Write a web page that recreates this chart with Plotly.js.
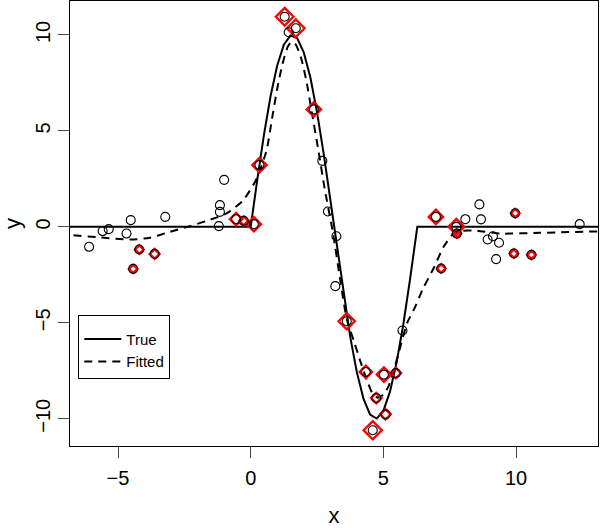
<!DOCTYPE html>
<html>
<head>
<meta charset="utf-8">
<script src="https://cdn.plot.ly/plotly-3.0.1.min.js"></script>
<style>html,body{margin:0;padding:0;background:#fff;}#plot{width:600px;height:528px;}</style>
</head>
<body>
<div id="plot"></div>
<script>
// All observed data points (open circles)
var obsX = [-6.09,-5.58,-5.35,-4.52,-4.68,-4.20,-4.43,-3.62,-3.22,-1.00,-1.16,-1.16,-1.20,-0.55,-0.26,0.12,0.33,
            1.28,1.70,1.43,2.38,2.70,2.91,3.23,3.19,3.62,4.34,5.02,5.47,4.73,5.08,4.60,5.72,
            6.98,7.75,7.77,7.18,8.09,8.62,8.68,9.97,9.13,8.93,9.36,9.25,9.92,10.58,12.40];
var obsY = [-1.04,-0.22,-0.12,0.35,-0.35,-1.18,-2.19,-1.41,0.52,2.45,1.13,0.78,0.04,0.40,0.31,0.14,3.22,
            10.95,10.35,10.14,6.12,3.44,0.80,-0.49,-3.09,-4.92,-7.56,-7.70,-7.62,-8.92,-9.77,-10.60,-5.40,
            0.52,0.00,-0.35,-2.17,0.40,1.17,0.39,0.71,-0.49,-0.66,-0.83,-1.68,-1.39,-1.46,0.14];
// Highlighted points (red diamonds) and their diamond sizes
var selX = [-4.20,-4.43,-3.62,-0.55,-0.26,0.12,0.33,1.28,1.70,2.38,3.62,4.34,5.02,5.47,4.73,5.08,4.60,6.98,7.75,7.77,7.18,9.97,9.92,10.58];
var selY = [-1.18,-2.19,-1.41,0.40,0.31,0.14,3.22,10.95,10.35,6.12,-4.92,-7.56,-7.70,-7.62,-8.92,-9.77,-10.60,0.52,0.00,-0.35,-2.17,0.71,-1.39,-1.46];
var selW = [6.5,6.5,7.5,9.5,7,11,11,13.5,13.5,11,12.5,9.5,11,8,8,8,14,11,12,6.5,6.5,6.5,6.5,6.5];
// True curve
var trueX = [-8,0,0.25,0.5,0.75,1,1.25,1.5,1.75,2,2.25,2.5,2.75,3,3.25,3.5,3.75,4,4.25,4.5,4.75,5,5.25,5.5,5.75,6,6.28,14];
var trueY = [0,0,2.47,4.79,6.82,8.41,9.49,9.97,9.84,9.09,7.78,5.98,3.82,1.41,-1.08,-3.51,-5.72,-7.57,-8.95,-9.78,-9.99,-9.59,-8.59,-7.06,-5.10,-2.79,0,0];
// Fitted curve
var fitX = [-7.2,-6.81,-5.69,-4.55,-3.8,-3.05,-2.29,-1.66,-0.91,-0.28,0.23,0.6,0.8,1.0,1.2,1.4,1.55,1.7,1.9,2.1,2.3,2.55,2.8,3.1,3.4,3.62,3.9,4.12,4.38,4.6,4.8,5.0,5.2,5.45,5.65,5.9,6.2,6.5,6.89,7.27,7.65,8.0,8.5,9.4,10.9,13.5];
var fitY = [-0.40,-0.43,-0.55,-0.66,-0.57,-0.26,0.04,0.31,0.70,1.39,2.52,4.0,5.6,7.2,8.5,9.4,9.65,9.5,8.8,7.6,6.0,4.0,1.9,-0.3,-3.0,-4.8,-6.0,-6.95,-8.0,-8.7,-8.9,-8.75,-8.3,-7.2,-6.2,-5.0,-4.17,-3.2,-2.17,-1.04,-0.35,-0.2,-0.2,-0.35,-0.31,-0.22];
var xTicks = [-5,0,5,10];
var yTicks = [-10,-5,0,5,10];

var font = "Liberation Sans, Arial, sans-serif";
var traces = [
  {x: trueX, y: trueY, mode: 'lines', name: 'True', line: {color: 'black', width: 2}, hoverinfo: 'skip'},
  {x: fitX, y: fitY, mode: 'lines', name: 'Fitted', line: {color: 'black', width: 2, dash: '8px,6px', shape: 'spline', smoothing: 0.6}, hoverinfo: 'skip'},
  {x: selX, y: selY, mode: 'markers', showlegend: false, opacity: 1, marker: {symbol: 'diamond-open', size: selW, opacity: 1, color: '#ff0000', line: {width: 2.4, color: '#ff0000'}}},
  {x: obsX, y: obsY, mode: 'markers', showlegend: false, opacity: 1, marker: {symbol: 'circle-open', size: 9, opacity: 1, color: 'black', line: {width: 1.1, color: 'black'}}}
];
var layout = {
  width: 600, height: 528,
  margin: {l: 70, r: 2, t: 1, b: 82},
  paper_bgcolor: 'white', plot_bgcolor: 'white',
  font: {family: font, color: 'black'},
  showlegend: true,
  legend: {x: 0.0157, y: 0.294, xanchor: 'left', yanchor: 'top', bgcolor: 'white', bordercolor: 'black', borderwidth: 1,
           font: {size: 15, family: font}, tracegroupgap: 0, itemwidth: 37,
           title: {text: ' ', font: {size: 5}}},
  xaxis: {range: [-6.81, 13.09], tickvals: xTicks, ticktext: xTicks.map(function(v){return v<0?'\u2212'+(-v):String(v);}),
          ticks: 'outside', ticklen: 11, tickcolor: '#444', tickwidth: 1, ticklabelstandoff: 3,
          showline: true, linecolor: 'black', linewidth: 1, mirror: true, showgrid: false, zeroline: false,
          tickfont: {size: 20, family: font}, title: {text: 'x', font: {size: 22, family: font}, standoff: 20}},
  yaxis: {range: [-11.42, 11.77], tickvals: yTicks, ticktext: yTicks.map(function(v){return v<0?'\u2212'+(-v):String(v);}),
          tickangle: -90, ticks: 'outside', ticklen: 11, tickcolor: '#444', tickwidth: 1,
          showline: true, linecolor: 'black', linewidth: 1, mirror: true, showgrid: false, zeroline: false,
          tickfont: {size: 20, family: font}, title: {text: 'y', font: {size: 22, family: font}, standoff: 14}}
};
Plotly.newPlot('plot', traces, layout, {displayModeBar: false, staticPlot: true});
</script>
</body>
</html>
